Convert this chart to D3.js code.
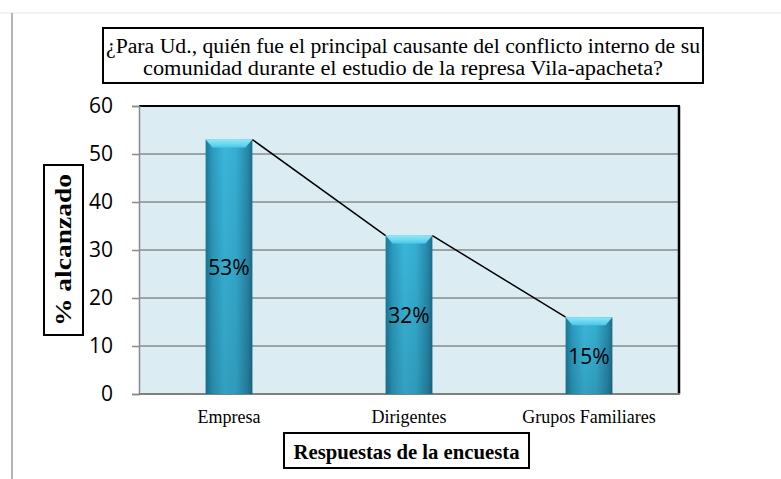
<!DOCTYPE html>
<html>
<head>
<meta charset="utf-8">
<script src="https://cdn.jsdelivr.net/npm/d3@7"></script>
<style>
 body { margin: 0; background: #fff; }
 svg { display: block; }
</style>
</head>
<body>
<script>
const width = 781;
const height = 479;

// data
const categories = ["Empresa", "Dirigentes", "Grupos Familiares"];
const values = [53, 33, 16];
const valueLabels = ["53%", "32%", "15%"];
const yTicks = [0, 10, 20, 30, 40, 50, 60];
const titleLines = [
 "¿Para Ud., quién fue el principal causante del conflicto interno de su",
 "comunidad durante el estudio de la represa  Vila-apacheta?"
];
const xTitle = "Respuestas de la encuesta";
const yTitle = "%  alcanzado";

const plot = {left: 139, right: 679, top: 106, bottom: 394};

const svg = d3.select("body")
 .append("svg")
  .attr("width", width)
  .attr("height", height);

const defs = svg.append("defs");

// cylinder look for the bars
const barGrad = defs.append("linearGradient")
 .attr("id", "barGrad")
 .attr("x1", "0").attr("x2", "1").attr("y1", "0").attr("y2", "0");
[["0%", "#1d7896"], ["15%", "#2b9cc0"], ["40%", "#3ab6da"], ["65%", "#35aed2"], ["90%", "#2788aa"], ["100%", "#1b6e8a"]]
 .forEach(s => barGrad.append("stop").attr("offset", s[0]).attr("stop-color", s[1]));

const shadeGrad = defs.append("linearGradient")
 .attr("id", "shadeGrad")
 .attr("x1", "0").attr("x2", "0").attr("y1", "0").attr("y2", "1");
shadeGrad.append("stop").attr("offset", "0%").attr("stop-color", "#000").attr("stop-opacity", 0);
shadeGrad.append("stop").attr("offset", "100%").attr("stop-color", "#000").attr("stop-opacity", 0.12);

const capGrad = defs.append("linearGradient")
 .attr("id", "capGrad")
 .attr("x1", "0").attr("x2", "0").attr("y1", "0").attr("y2", "1");
capGrad.append("stop").attr("offset", "0%").attr("stop-color", "#8ee9f8");
capGrad.append("stop").attr("offset", "100%").attr("stop-color", "#4cc8e6");

// page decoration: faint top rule and left rule
svg.append("line")
 .attr("x1", 0).attr("x2", width).attr("y1", 13).attr("y2", 13)
 .attr("stroke", "#ececec").attr("stroke-width", 1.5);
svg.append("line")
 .attr("x1", 12).attr("x2", 12).attr("y1", 13).attr("y2", height)
 .attr("stroke", "#9a9a9a").attr("stroke-width", 1.5);

// scales
const x = d3.scaleBand()
 .domain(categories)
 .range([plot.left, plot.right])
 .paddingInner(0.74)
 .paddingOuter(0.37);

const y = d3.scaleLinear()
 .domain([0, 60])
 .range([plot.bottom, plot.top]);

// plot area
svg.append("rect")
 .attr("x", plot.left).attr("y", plot.top)
 .attr("width", plot.right - plot.left).attr("height", plot.bottom - plot.top)
 .attr("fill", "#dbedf3");

// gridlines
svg.append("g")
 .selectAll("line")
 .data(yTicks.filter(t => t > 0 && t < 60))
 .join("line")
  .attr("x1", plot.left).attr("x2", plot.right)
  .attr("y1", d => y(d)).attr("y2", d => y(d))
  .attr("stroke", "#8a8a8a").attr("stroke-width", 1.5);

// borders: top + right black, left + bottom gray
svg.append("line")
 .attr("x1", plot.left).attr("x2", plot.right + 1)
 .attr("y1", plot.top).attr("y2", plot.top)
 .attr("stroke", "#000").attr("stroke-width", 2);
svg.append("line")
 .attr("x1", plot.right).attr("x2", plot.right)
 .attr("y1", plot.top).attr("y2", plot.bottom)
 .attr("stroke", "#000").attr("stroke-width", 2.5);

// y axis
const yAxis = svg.append("g")
 .attr("transform", "translate(" + plot.left + ",0)")
 .call(d3.axisLeft(y).tickValues(yTicks).tickSize(7).tickPadding(19).tickFormat(d3.format("d")));
yAxis.select(".domain").attr("stroke", "#8a8a8a").attr("stroke-width", 1.5);
yAxis.selectAll(".tick line").attr("stroke", "#8a8a8a").attr("stroke-width", 1.5);
yAxis.selectAll(".tick text")
 .attr("fill", "#000")
 .attr("font-family", "'Open Sans', sans-serif")
 .attr("font-size", 21);

// bottom axis line
svg.append("line")
 .attr("x1", plot.left).attr("x2", plot.right + 1)
 .attr("y1", plot.bottom).attr("y2", plot.bottom)
 .attr("stroke", "#7f7f7f").attr("stroke-width", 2);

// bars
const bars = svg.append("g")
 .selectAll("g")
 .data(values.map((v, i) => ({cat: categories[i], v: v, label: valueLabels[i]})))
 .join("g");

bars.append("rect")
 .attr("x", d => x(d.cat))
 .attr("y", d => y(d.v))
 .attr("width", x.bandwidth())
 .attr("height", d => y(0) - y(d.v))
 .attr("fill", "url(#barGrad)");
bars.append("rect")
 .attr("x", d => x(d.cat))
 .attr("y", d => y(d.v))
 .attr("width", x.bandwidth())
 .attr("height", d => y(0) - y(d.v))
 .attr("fill", "url(#shadeGrad)");
// top bevel
bars.append("path")
 .attr("d", d => {
  const x0 = x(d.cat), x1 = x0 + x.bandwidth(), t = y(d.v);
  return "M" + x0 + "," + t + "L" + x1 + "," + t + "L" + (x1 - 7) + "," + (t + 8) + "L" + (x0 + 7) + "," + (t + 8) + "Z";
 })
 .attr("fill", "url(#capGrad)");

bars.append("text")
 .attr("x", d => x(d.cat) + x.bandwidth() / 2)
 .attr("y", d => (y(d.v) + y(0)) / 2 + 8)
 .attr("text-anchor", "middle")
 .attr("font-family", "'Open Sans', sans-serif")
 .attr("font-size", 21)
 .attr("fill", "#000")
 .text(d => d.label);

// connecting line between bar tops
const segs = d3.range(values.length - 1).map(i => ({
 x1: x(categories[i]) + x.bandwidth(), y1: y(values[i]),
 x2: x(categories[i + 1]), y2: y(values[i + 1])
}));
svg.append("g")
 .selectAll("line")
 .data(segs)
 .join("line")
  .attr("x1", d => d.x1).attr("y1", d => d.y1)
  .attr("x2", d => d.x2).attr("y2", d => d.y2)
  .attr("stroke", "#000").attr("stroke-width", 1.5);

// category labels
svg.append("g")
 .selectAll("text")
 .data(categories)
 .join("text")
  .attr("x", d => x(d) + x.bandwidth() / 2)
  .attr("y", 423)
  .attr("text-anchor", "middle")
  .attr("font-family", "'Liberation Serif', serif")
  .attr("font-size", 18)
  .text(d => d);

// title box
svg.append("rect")
 .attr("x", 103).attr("y", 28).attr("width", 600).attr("height", 55)
 .attr("fill", "#fff").attr("stroke", "#000").attr("stroke-width", 2);
svg.append("g")
 .selectAll("text")
 .data(titleLines)
 .join("text")
  .attr("x", 403)
  .attr("y", (d, i) => 53 + i * 22)
  .attr("text-anchor", "middle")
  .attr("textLength", (d, i) => i === 0 ? 594 : 520)
  .attr("lengthAdjust", "spacingAndGlyphs")
  .style("font-family", "'Liberation Serif', serif")
  .style("font-size", "20px")
  .text(d => d);

// x axis title box
svg.append("rect")
 .attr("x", 284).attr("y", 433).attr("width", 245).attr("height", 35)
 .attr("fill", "#fff").attr("stroke", "#000").attr("stroke-width", 2);
svg.append("text")
 .attr("x", 406.5).attr("y", 459)
 .attr("text-anchor", "middle")
 .attr("font-family", "'Liberation Serif', serif")
 .attr("font-weight", "bold")
 .attr("font-size", 22)
 .attr("textLength", 226)
 .attr("lengthAdjust", "spacingAndGlyphs")
 .text(xTitle);

// y axis title box
svg.append("rect")
 .attr("x", 44).attr("y", 165).attr("width", 39).attr("height", 170)
 .attr("fill", "#fff").attr("stroke", "#000").attr("stroke-width", 2);
svg.append("text")
 .attr("transform", "translate(71,250) rotate(-90)")
 .attr("text-anchor", "middle")
 .attr("font-family", "'Liberation Serif', serif")
 .attr("font-weight", "bold")
 .attr("font-size", 23)
 .attr("textLength", 152)
 .attr("lengthAdjust", "spacingAndGlyphs")
 .text(yTitle);
</script>
</body>
</html>
